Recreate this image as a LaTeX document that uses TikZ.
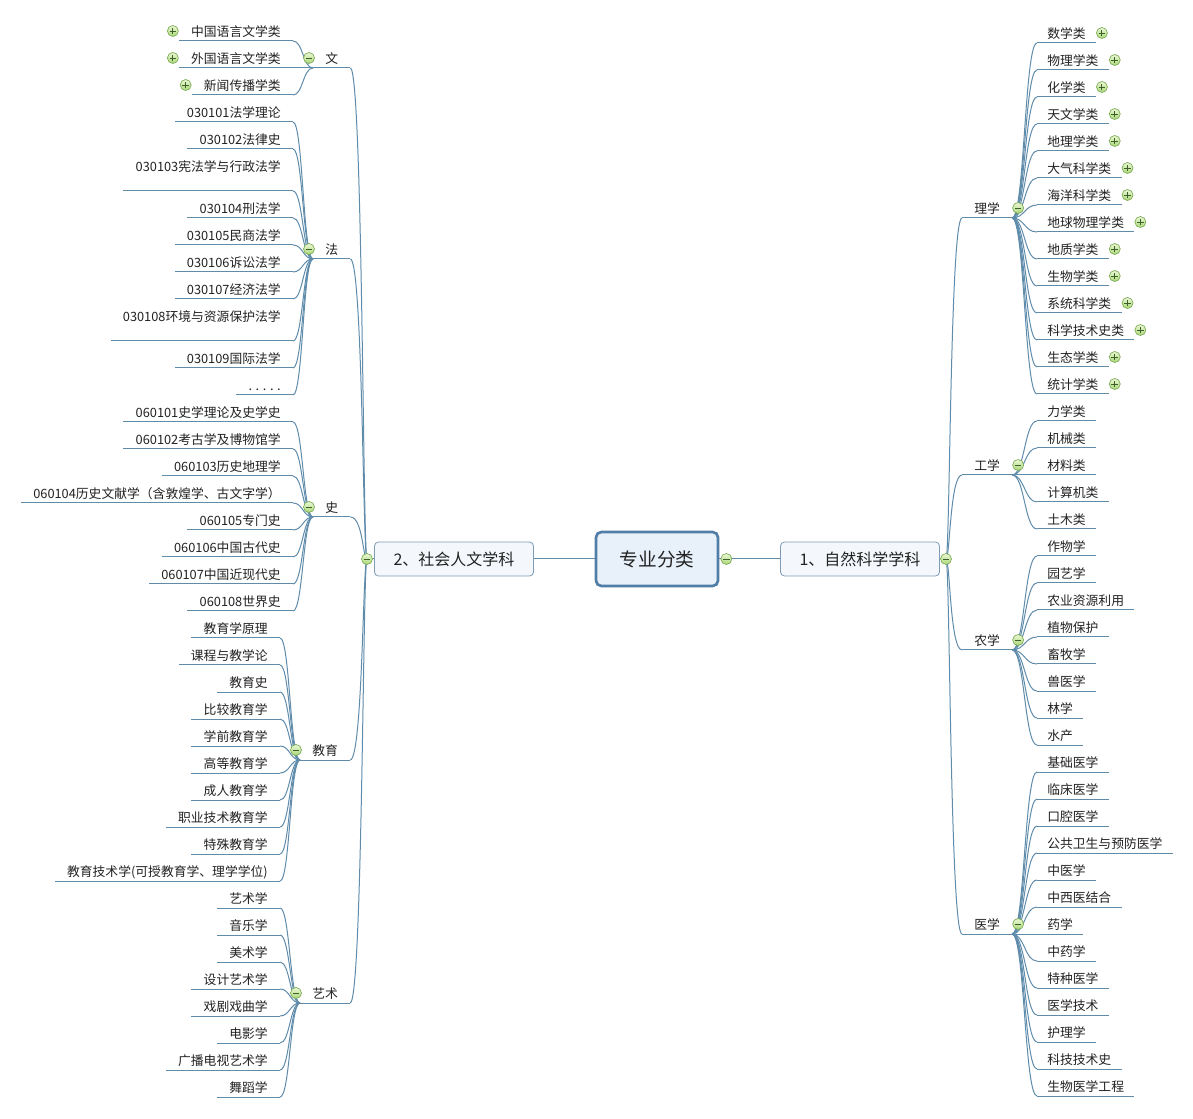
\documentclass[tikz,border=0pt]{standalone}
\usepackage{fontspec}
\setmainfont{Noto Sans CJK SC}
\usetikzlibrary{calc}
\definecolor{lnc}{RGB}{96,140,172}
\definecolor{txc}{RGB}{34,34,34}
\definecolor{rootbd}{RGB}{80,126,166}
\definecolor{rootfill}{RGB}{232,241,250}
\definecolor{boxbd}{RGB}{126,156,182}
\definecolor{boxfill}{RGB}{244,248,252}
\definecolor{ictop}{RGB}{236,248,214}
\definecolor{icbot}{RGB}{170,214,120}
\definecolor{icbd}{RGB}{122,172,82}
\definecolor{icsign}{RGB}{60,96,40}
\newcommand\fsleaf{\fontsize{9.6pt}{11pt}\selectfont}
\newcommand\mmlink[3][0.25]{\draw[ln] let \p1=(#2), \p2=(#3) in (\p1) .. controls ({(1-#1)*\x1+#1*\x2}, \y1) and ({(1-#1)*\x1+#1*\x2}, \y2) .. (\p2);}
\begin{document}
\begin{tikzpicture}[x=0.75pt,y=-0.75pt,
  ln/.style={draw=lnc, line width=0.75pt},
  base/.style={font=\fsleaf, text=txc, inner ysep=2.25pt, text height=7.5pt, text depth=0.75pt},
  leafR/.style={base, anchor=south west, inner xsep=7.5pt},
  leafL/.style={base, anchor=south east, inner xsep=9pt},
  catbox/.style={base, anchor=south west, inner xsep=9pt},
  normal/.style={},
  tall/.style={text depth=12pt},
  icon/.style={circle, draw=icbd, top color=ictop, bottom color=icbot, minimum size=8.25pt, inner sep=0pt, line width=0.5pt},
  minusic/.style={icon, path picture={\draw[icsign, line width=0.7pt] ([xshift=-2.5pt]path picture bounding box.center) -- ([xshift=2.5pt]path picture bounding box.center);}},
  plusic/.style={icon, path picture={\draw[icsign, line width=0.7pt] ([xshift=-2.5pt]path picture bounding box.center) -- ([xshift=2.5pt]path picture bounding box.center) ([yshift=-2.5pt]path picture bounding box.center) -- ([yshift=2.5pt]path picture bounding box.center);}},
  rootbox/.style={rounded corners=4pt, draw=rootbd, line width=2pt, fill=rootfill, minimum width=91.5pt, minimum height=40.5pt, inner sep=0pt, text=txc, font=\fontsize{14pt}{16pt}\selectfont},
  subbox/.style={rounded corners=3pt, draw=boxbd, line width=0.6pt, fill=boxfill, minimum width=119.25pt, minimum height=25.5pt, inner sep=0pt, text=txc, font=\fontsize{12pt}{14pt}\selectfont}
]
\fill[white] (0,0) rectangle (1193,1119);
\useasboundingbox (0,0) rectangle (1193,1119);

% main nodes
\node[rootbox] (root) at (657,559) {专业分类};
\node[subbox] (sub2) at (454,559) {2、社会人文学科};
\node[subbox] (sub1) at (860,559) {1、自然科学学科};
\coordinate (JR) at (946,559);
\coordinate (JL) at (367,559);
\draw[ln] (root.east) -- (sub1.west);
\draw[ln] (root.west) -- (sub2.east);
\draw[ln] (sub1.east) -- (JR);
\draw[ln] (sub2.west) -- (JL);

% categories right
\foreach \nm/\tx/\yy in {cLi/理学/218, cGong/工学/475, cNong/农学/650, cYi/医学/934} {
  \node[catbox] (\nm) at (962,\yy) {\tx};
  \draw[ln] (\nm.south west) -- (\nm.south east);
  \mmlink{JR}{\nm.south west}
}
% categories left
\foreach \nm/\tx/\xx/\yy in {cWen/文/313/68, cFa/法/313/259, cShi/史/313/517, cJy/教育/300/760, cYs/艺术/300/1003} {
  \node[catbox] (\nm) at (\xx,\yy) {\tx};
  \draw[ln] (\nm.south west) -- (\nm.south east);
  \mmlink{JL}{\nm.south east}
}

% 理学
\foreach \tx [count=\i from 0] in {数学类,物理学类,化学类,天文学类,地理学类,大气科学类,海洋科学类,地球物理学类,地质学类,生物学类,系统科学类,科学技术史类,生态学类,统计学类} {
  \pgfmathsetmacro\yy{43+27*\i}
  \node[leafR] (li\i) at (1037,\yy) {\tx};
  \draw[ln] (li\i.south west) -- (li\i.south east);
  \mmlink[0.5]{cLi.south east}{li\i.south west}
  \node[plusic] (lip\i) at ($(li\i.south east)+(6,-10)$) {};
}
% 工学
\foreach \tx [count=\i from 0] in {力学类,机械类,材料类,计算机类,土木类} {
  \pgfmathsetmacro\yy{421+27*\i}
  \node[leafR] (gx\i) at (1037,\yy) {\tx};
  \draw[ln] (gx\i.south west) -- (gx\i.south east);
  \mmlink[0.5]{cGong.south east}{gx\i.south west}
}
% 农学
\foreach \tx [count=\i from 0] in {作物学,园艺学,农业资源利用,植物保护,畜牧学,兽医学,林学,水产} {
  \pgfmathsetmacro\yy{556+27*\i}
  \node[leafR] (nx\i) at (1037,\yy) {\tx};
  \draw[ln] (nx\i.south west) -- (nx\i.south east);
  \mmlink[0.5]{cNong.south east}{nx\i.south west}
}
% 医学
\foreach \tx [count=\i from 0] in {基础医学,临床医学,口腔医学,公共卫生与预防医学,中医学,中西医结合,药学,中药学,特种医学,医学技术,护理学,科技技术史,生物医学工程} {
  \pgfmathsetmacro\yy{772+27*\i}
  \node[leafR] (yx\i) at (1037,\yy) {\tx};
  \draw[ln] (yx\i.south west) -- (yx\i.south east);
  \mmlink[0.5]{cYi.south east}{yx\i.south west}
}

% 文
\foreach \tx [count=\i from 0] in {中国语言文学类,外国语言文学类,新闻传播学类} {
  \pgfmathsetmacro\yy{41+27*\i}
  \node[leafL] (wx\i) at (293,\yy) {\tx};
  \draw[ln] (wx\i.south west) -- (wx\i.south east);
  \mmlink[0.5]{cWen.south west}{wx\i.south east}
  \node[plusic] (wxp\i) at ($(wx\i.south west)+(-6,-10)$) {};
}
% 法
\foreach \yy/\st/\tx [count=\i from 0] in {122/normal/{030101法学理论}, 149/normal/{030102法律史}, 191/tall/{030103宪法学与行政法学}, 218/normal/{030104刑法学}, 245/normal/{030105民商法学}, 272/normal/{030106诉讼法学}, 299/normal/{030107经济法学}, 341/tall/{030108环境与资源保护法学}, 368/normal/{030109国际法学}, 395/normal/{.\kern2.7pt.\kern2.7pt.\kern2.7pt.\kern2.7pt.}} {
  \node[leafL,\st] (fx\i) at (293,\yy) {\tx};
  \draw[ln] (fx\i.south west) -- (fx\i.south east);
  \mmlink[0.5]{cFa.south west}{fx\i.south east}
}
% 史
\foreach \tx [count=\i from 0] in {060101史学理论及史学史,060102考古学及博物馆学,060103历史地理学,060104历史文献学（含敦煌学、古文字学）,060105专门史,060106中国古代史,060107中国近现代史,060108世界史} {
  \pgfmathsetmacro\yy{422+27*\i}
  \node[leafL] (sx\i) at (293,\yy) {\tx};
  \draw[ln] (sx\i.south west) -- (sx\i.south east);
  \mmlink[0.5]{cShi.south west}{sx\i.south east}
}
% 教育
\foreach \tx [count=\i from 0] in {教育学原理,课程与教学论,教育史,比较教育学,学前教育学,高等教育学,成人教育学,职业技术教育学,特殊教育学,{教育技术学(可授教育学、理学学位)}} {
  \pgfmathsetmacro\yy{638+27*\i}
  \node[leafL] (jx\i) at (280,\yy) {\tx};
  \draw[ln] (jx\i.south west) -- (jx\i.south east);
  \mmlink[0.5]{cJy.south west}{jx\i.south east}
}
% 艺术
\foreach \tx [count=\i from 0] in {艺术学,音乐学,美术学,设计艺术学,戏剧戏曲学,电影学,广播电视艺术学,舞蹈学} {
  \pgfmathsetmacro\yy{908+27*\i}
  \node[leafL] (ax\i) at (280,\yy) {\tx};
  \draw[ln] (ax\i.south west) -- (ax\i.south east);
  \mmlink[0.5]{cYs.south west}{ax\i.south east}
}

% collapse icons
\node[minusic] (mroot) at ($(root.east)+(7,0)$) {};
\node[minusic] (mR) at (JR) {};
\node[minusic] (mL) at (JL) {};
\foreach \nm in {cLi,cGong,cNong,cYi} {
  \node[minusic] (m\nm) at ($(\nm.south east)+(6,-10)$) {};
}
\foreach \nm in {cWen,cFa,cShi,cJy,cYs} {
  \node[minusic] (m\nm) at ($(\nm.south west)+(-4,-10)$) {};
}
\end{tikzpicture}
\end{document}
